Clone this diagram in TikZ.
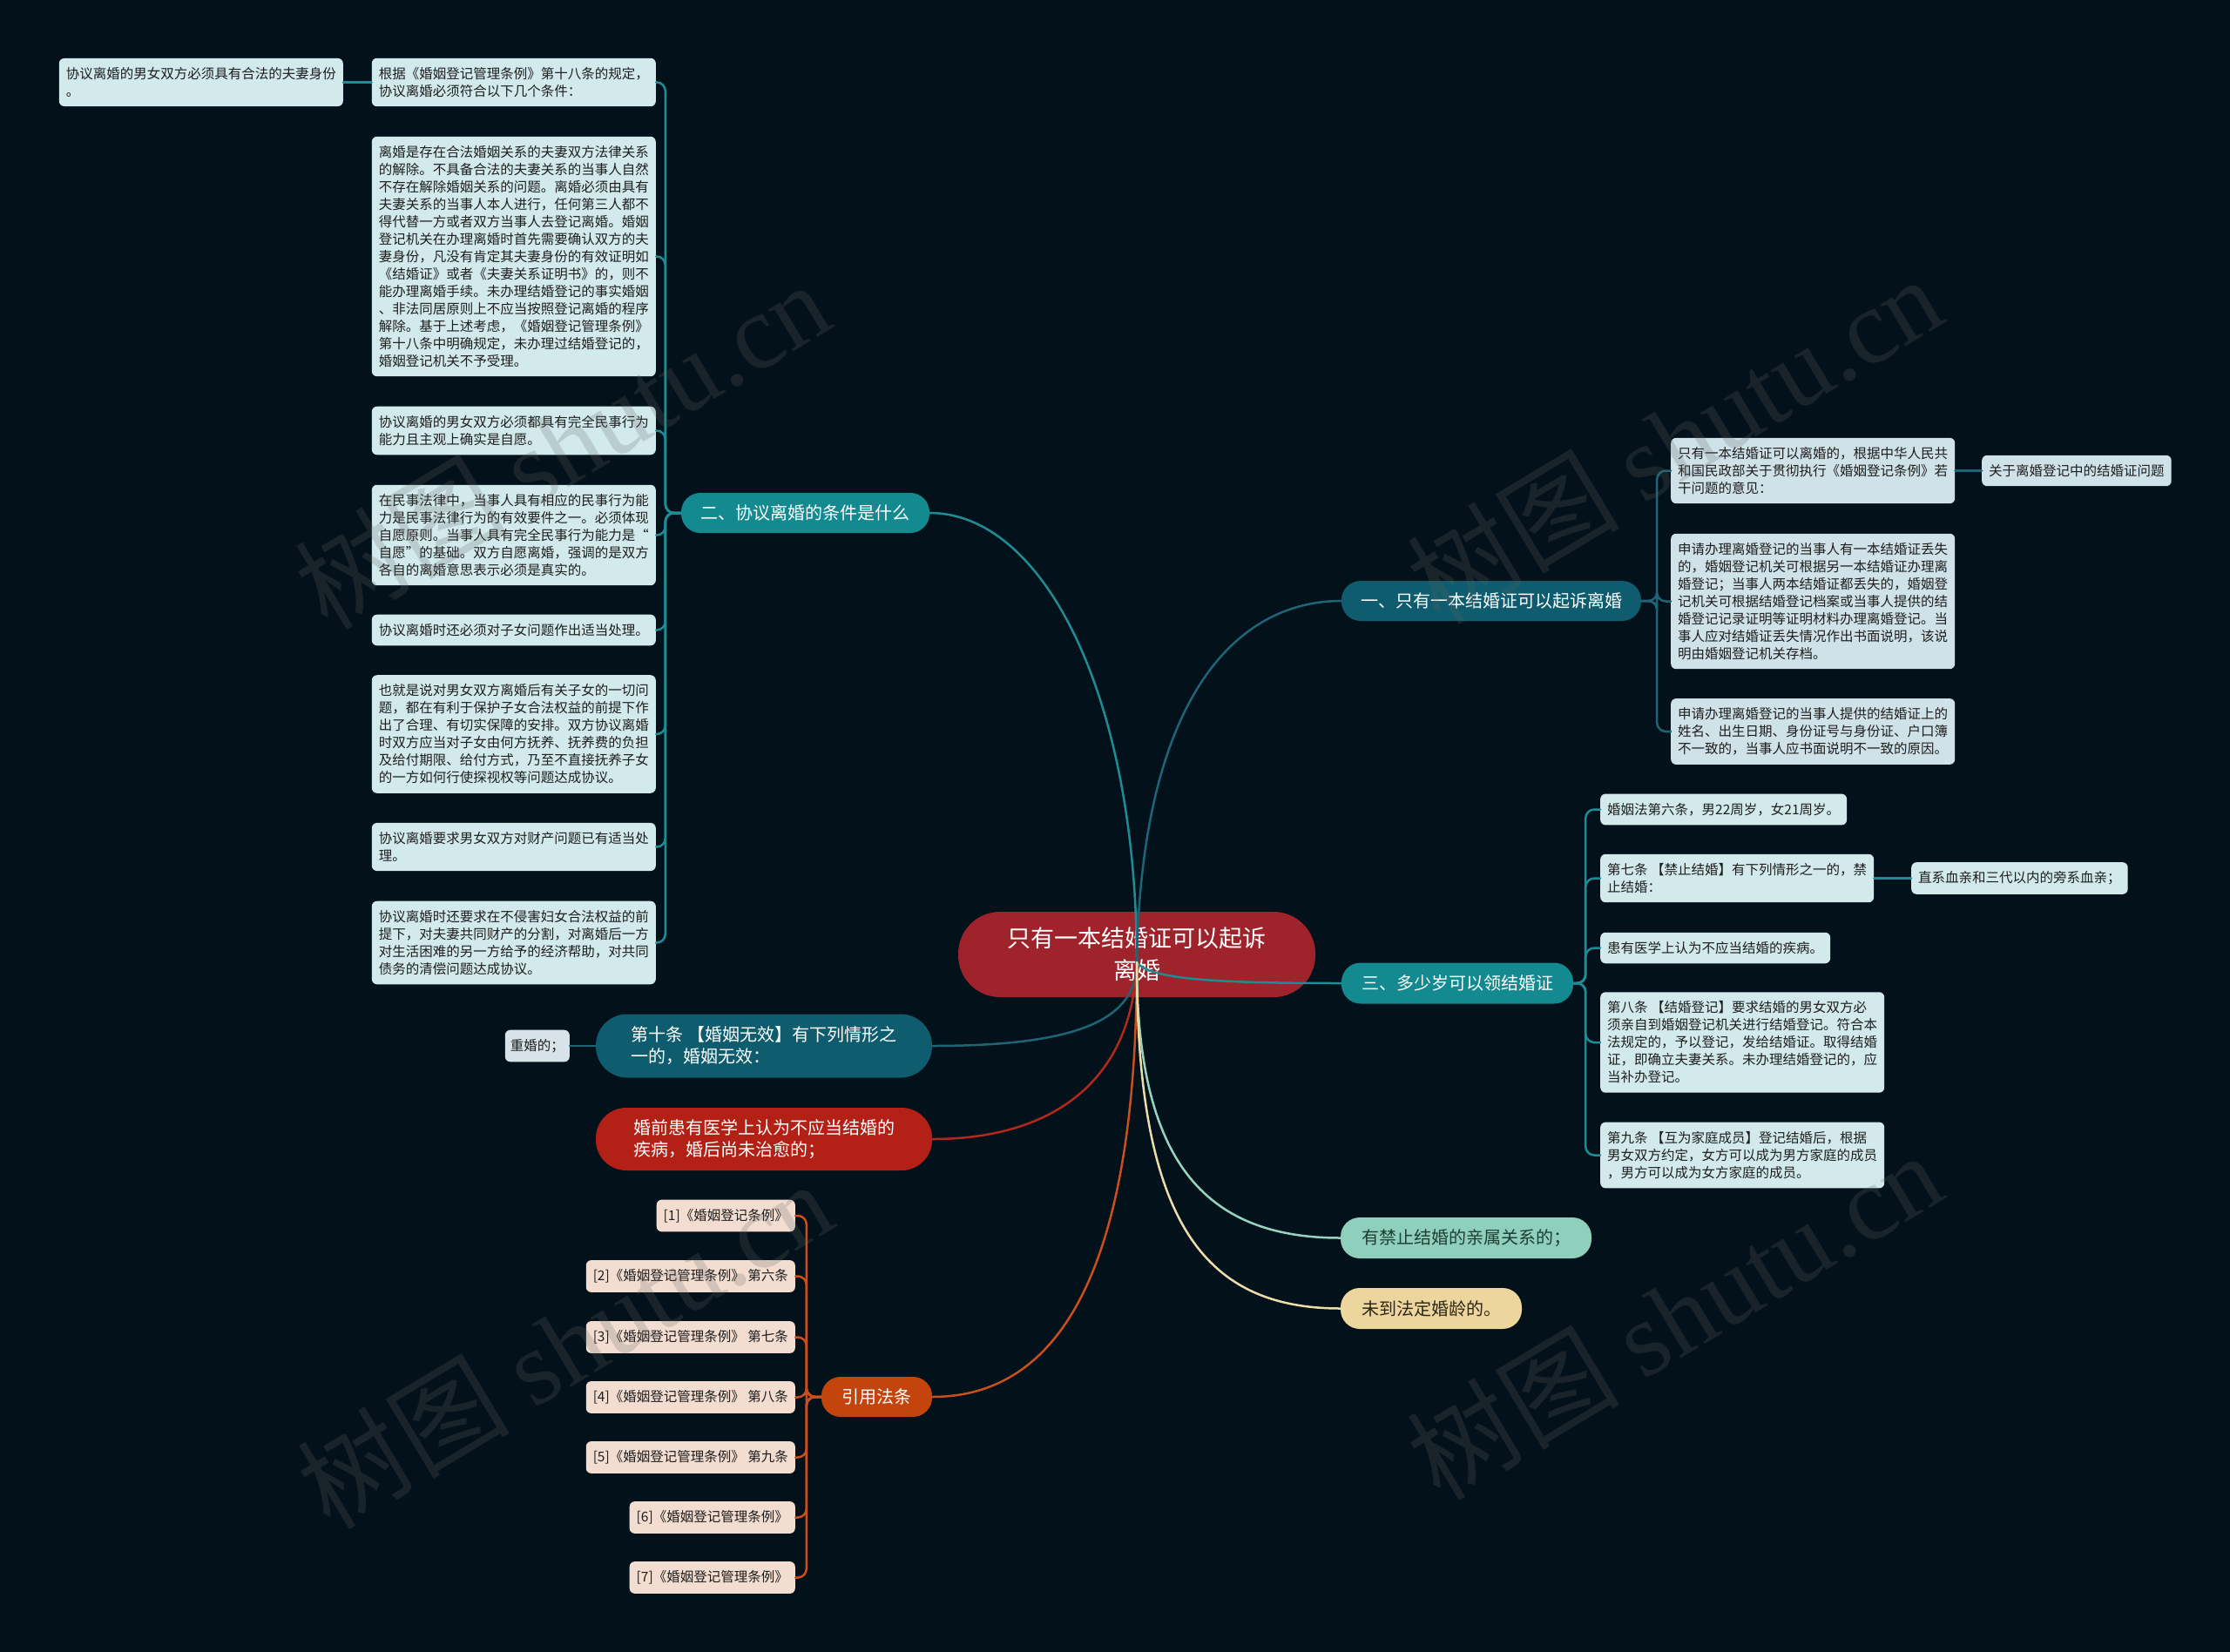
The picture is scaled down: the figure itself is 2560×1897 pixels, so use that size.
\documentclass[tikz,border=0pt]{standalone}
\usepackage{fontspec}
\setmainfont{Noto Sans CJK SC}
\newfontfamily\wmlat{Liberation Serif}
\definecolor{bgc}{RGB}{3,17,26}
\definecolor{cenc}{RGB}{158,35,42}
\definecolor{tealA}{RGB}{18,138,143}
\definecolor{tealB}{RGB}{14,92,110}
\definecolor{redB}{RGB}{178,32,22}
\definecolor{orB}{RGB}{196,68,14}
\definecolor{mintB}{RGB}{143,208,188}
\definecolor{yelB}{RGB}{236,214,158}
\definecolor{leafc}{RGB}{210,234,236}
\definecolor{leafr}{RGB}{207,226,232}
\definecolor{leafp}{RGB}{242,221,208}
\definecolor{leafg}{RGB}{214,227,232}
\definecolor{txtd}{RGB}{30,30,30}
\definecolor{lnTealA}{RGB}{30,140,148}
\definecolor{lnTealB}{RGB}{30,100,118}
\definecolor{lnRed}{RGB}{178,40,28}
\definecolor{lnOr}{RGB}{200,80,30}
\definecolor{lnMint}{RGB}{150,212,192}
\definecolor{lnYel}{RGB}{236,220,170}
\definecolor{wmc}{RGB}{100,100,100}
\tikzset{
  lf/.style={fill=leafc, text=txtd, rounded corners=6pt, align=left, inner xsep=8pt, inner ysep=10.5pt, font=\fontsize{15.5}{20}\selectfont},
  lfR/.style={lf, fill=leafr},
  lfP/.style={lf, fill=leafp},
  pill/.style={text=white, align=center, inner sep=0pt, font=\fontsize{20}{25}\selectfont},
  conn/.style={line width=2.5pt, line cap=round},
  wm/.style={text=wmc, text opacity=0.22, rotate=31, font=\fontsize{122}{122}\selectfont},
}
\begin{document}
\begin{tikzpicture}[x=1pt,y=-1pt]
\fill[bgc] (0,0) rectangle (2560,1897);
\useasboundingbox (0,0) rectangle (2560,1897);

% central
\node[fill=cenc, text=white, align=center, inner sep=0pt, minimum width=410pt, minimum height=98pt, rounded corners=48pt, font=\fontsize{27}{37}\selectfont] (c) at (1305,1096) {只有一本结婚证可以起诉\\离婚};
\coordinate (hub) at (1305,1105);

% main branches
\node[pill, fill=tealA, minimum width=285pt, minimum height=46pt, rounded corners=22pt] (b2) at (924.5,589) {二、协议离婚的条件是什么};
\node[pill, fill=tealB, minimum width=344pt, minimum height=46pt, rounded corners=22pt] (b1) at (1712,690) {一、只有一本结婚证可以起诉离婚};
\node[pill, fill=tealA, minimum width=266pt, minimum height=47pt, rounded corners=22pt] (b3) at (1673,1129) {三、多少岁可以领结婚证};
\node[pill, fill=tealB, minimum width=386pt, minimum height=73pt, rounded corners=36pt, align=left] (b10) at (877,1201) {第十条 【婚姻无效】有下列情形之\\一的，婚姻无效：};
\node[pill, fill=redB, minimum width=386pt, minimum height=72pt, rounded corners=35pt, align=left] (br) at (877,1308) {婚前患有医学上认为不应当结婚的\\疾病，婚后尚未治愈的；};
\node[pill, fill=orB, minimum width=127pt, minimum height=46pt, rounded corners=22pt] (bq) at (1006.5,1604) {引用法条};
\node[pill, fill=mintB, text={rgb,255:red,30;green,62;blue,52}, minimum width=288pt, minimum height=47pt, rounded corners=22pt] (bm) at (1683,1421.5) {有禁止结婚的亲属关系的；};
\node[pill, fill=yelB, text={rgb,255:red,45;green,38;blue,22}, minimum width=208pt, minimum height=47pt, rounded corners=22pt] (by) at (1643,1502.5) {未到法定婚龄的。};

% left column (二)
\node[lf, anchor=east] (L1) at (753,94.5) {根据《婚姻登记管理条例》第十八条的规定，\\协议离婚必须符合以下几个条件：};
\node[lf, anchor=east] (L0) at (394,94.5) {协议离婚的男女双方必须具有合法的夫妻身份\\。};
\node[lf, anchor=east] (L3) at (753,294.5) {离婚是存在合法婚姻关系的夫妻双方法律关系\\的解除。不具备合法的夫妻关系的当事人自然\\不存在解除婚姻关系的问题。离婚必须由具有\\夫妻关系的当事人本人进行，任何第三人都不\\得代替一方或者双方当事人去登记离婚。婚姻\\登记机关在办理离婚时首先需要确认双方的夫\\妻身份，凡没有肯定其夫妻身份的有效证明如\\《结婚证》或者《夫妻关系证明书》的，则不\\能办理离婚手续。未办理结婚登记的事实婚姻\\、非法同居原则上不应当按照登记离婚的程序\\解除。基于上述考虑，《婚姻登记管理条例》\\第十八条中明确规定，未办理过结婚登记的，\\婚姻登记机关不予受理。};
\node[lf, anchor=east] (L4) at (753,494.5) {协议离婚的男女双方必须都具有完全民事行为\\能力且主观上确实是自愿。};
\node[lf, anchor=east] (L5) at (753,614.5) {在民事法律中，当事人具有相应的民事行为能\\力是民事法律行为的有效要件之一。必须体现\\自愿原则。当事人具有完全民事行为能力是“\\自愿”的基础。双方自愿离婚，强调的是双方\\各自的离婚意思表示必须是真实的。};
\node[lf, anchor=east] (L6) at (753,723.5) {协议离婚时还必须对子女问题作出适当处理。};
\node[lf, anchor=east] (L7) at (753,843) {也就是说对男女双方离婚后有关子女的一切问\\题，都在有利于保护子女合法权益的前提下作\\出了合理、有切实保障的安排。双方协议离婚\\时双方应当对子女由何方抚养、抚养费的负担\\及给付期限、给付方式，乃至不直接抚养子女\\的一方如何行使探视权等问题达成协议。};
\node[lf, anchor=east] (L8) at (753,972.5) {协议离婚要求男女双方对财产问题已有适当处\\理。};
\node[lf, anchor=east] (L9) at (753,1082.5) {协议离婚时还要求在不侵害妇女合法权益的前\\提下，对夫妻共同财产的分割，对离婚后一方\\对生活困难的另一方给予的经济帮助，对共同\\债务的清偿问题达成协议。};

% right column (一)
\node[lfR, anchor=west] (R1) at (1918,540.5) {只有一本结婚证可以离婚的，根据中华人民共\\和国民政部关于贯彻执行《婚姻登记条例》若\\干问题的意见：};
\node[lfR, anchor=west] (R1a) at (2275,540.5) {关于离婚登记中的结婚证问题};
\node[lfR, anchor=west] (R2) at (1918,690.5) {申请办理离婚登记的当事人有一本结婚证丢失\\的，婚姻登记机关可根据另一本结婚证办理离\\婚登记；当事人两本结婚证都丢失的，婚姻登\\记机关可根据结婚登记档案或当事人提供的结\\婚登记记录证明等证明材料办理离婚登记。当\\事人应对结婚证丢失情况作出书面说明，该说\\明由婚姻登记机关存档。};
\node[lfR, anchor=west] (R3) at (1918,840) {申请办理离婚登记的当事人提供的结婚证上的\\姓名、出生日期、身份证号与身份证、户口簿\\不一致的，当事人应书面说明不一致的原因。};

% right column (三)
\node[lf, anchor=west] (D1) at (1837,929.5) {婚姻法第六条，男22周岁，女21周岁。};
\node[lf, anchor=west] (D2) at (1837,1008.5) {第七条 【禁止结婚】有下列情形之一的，禁\\止结婚：};
\node[lf, anchor=west] (D2a) at (2194,1008.5) {直系血亲和三代以内的旁系血亲；};
\node[lf, anchor=west] (D3) at (1837,1088.5) {患有医学上认为不应当结婚的疾病。};
\node[lf, anchor=west] (D4) at (1837,1197) {第八条 【结婚登记】要求结婚的男女双方必\\须亲自到婚姻登记机关进行结婚登记。符合本\\法规定的，予以登记，发给结婚证。取得结婚\\证，即确立夫妻关系。未办理结婚登记的，应\\当补办登记。};
\node[lf, anchor=west] (D5) at (1837,1326.5) {第九条 【互为家庭成员】登记结婚后，根据\\男女双方约定，女方可以成为男方家庭的成员\\，男方可以成为女方家庭的成员。};

% 第十条 leaf
\node[lf, fill=leafg, anchor=east, inner xsep=6pt] (ch) at (654,1201) {重婚的；};

% references
\node[lfP, anchor=east] (q1) at (913,1396) {[1]《婚姻登记条例》};
\node[lfP, anchor=east] (q2) at (913,1465.5) {[2]《婚姻登记管理条例》 第六条};
\node[lfP, anchor=east] (q3) at (913,1535.5) {[3]《婚姻登记管理条例》 第七条};
\node[lfP, anchor=east] (q4) at (913,1604.5) {[4]《婚姻登记管理条例》 第八条};
\node[lfP, anchor=east] (q5) at (913,1673.5) {[5]《婚姻登记管理条例》 第九条};
\node[lfP, anchor=east] (q6) at (913,1742.5) {[6]《婚姻登记管理条例》};
\node[lfP, anchor=east] (q7) at (913,1811.5) {[7]《婚姻登记管理条例》};

% hub connectors
\draw[conn, lnTealA] (b2.east) .. controls +(131,0) and +(0,-305) .. (hub);
\draw[conn, lnTealB] (b1.west) .. controls +(-120,0) and +(5,-305) .. (hub);
\draw[conn, lnTealA] (hub) .. controls +(15,20) and +(-140,0) .. (b3.west);
\draw[conn, lnTealB] (hub) .. controls +(0,65) and +(170,0) .. (b10.east);
\draw[conn, lnRed] (hub) .. controls +(-5,135) and +(140,0) .. (br.east);
\draw[conn, lnOr] (hub) .. controls +(0,345) and +(150,0) .. (bq.east);
\draw[conn, lnMint] (hub) .. controls +(0,225) and +(-159,0) .. (bm.west);
\draw[conn, lnYel] (hub) .. controls +(0,295) and +(-159,0) .. (by.west);

% brackets 二
\foreach \n in {L1,L3,L4,L5,L6,L7,L8,L9}
  \draw[conn, lnTealA, rounded corners=10pt] (b2.west) -- ++(-18,0) |- (\n.east);
\draw[conn, lnTealA] (L1.west) -- (L0.east);
% brackets 一
\foreach \n in {R1,R2,R3}
  \draw[conn, lnTealB, rounded corners=10pt] (b1.east) -- ++(18,0) |- (\n.west);
\draw[conn, lnTealB] (R1.east) -- (R1a.west);
% brackets 三
\foreach \n in {D1,D2,D3,D4,D5}
  \draw[conn, lnTealA, rounded corners=10pt] (b3.east) -- ++(14,0) |- (\n.west);
\draw[conn, lnTealA] (D2.east) -- (D2a.west);
% 第十条
\draw[conn, lnTealB] (b10.west) -- (ch.east);
% references
\foreach \n in {q1,q2,q3,q4,q5,q6,q7}
  \draw[conn, lnOr, rounded corners=10pt] (bq.west) -- ++(-17,0) |- (\n.east);

% watermarks (on top, faint)
\node[wm] (w1) at (645,510) {树图 {\wmlat shutu.cn}};
\node[wm] (w2) at (1922,504) {树图 {\wmlat shutu.cn}};
\node[wm] (w3) at (648,1543) {树图 {\wmlat shutu.cn}};
\node[wm] (w4) at (1922,1510) {树图 {\wmlat shutu.cn}};
\end{tikzpicture}
\end{document}
